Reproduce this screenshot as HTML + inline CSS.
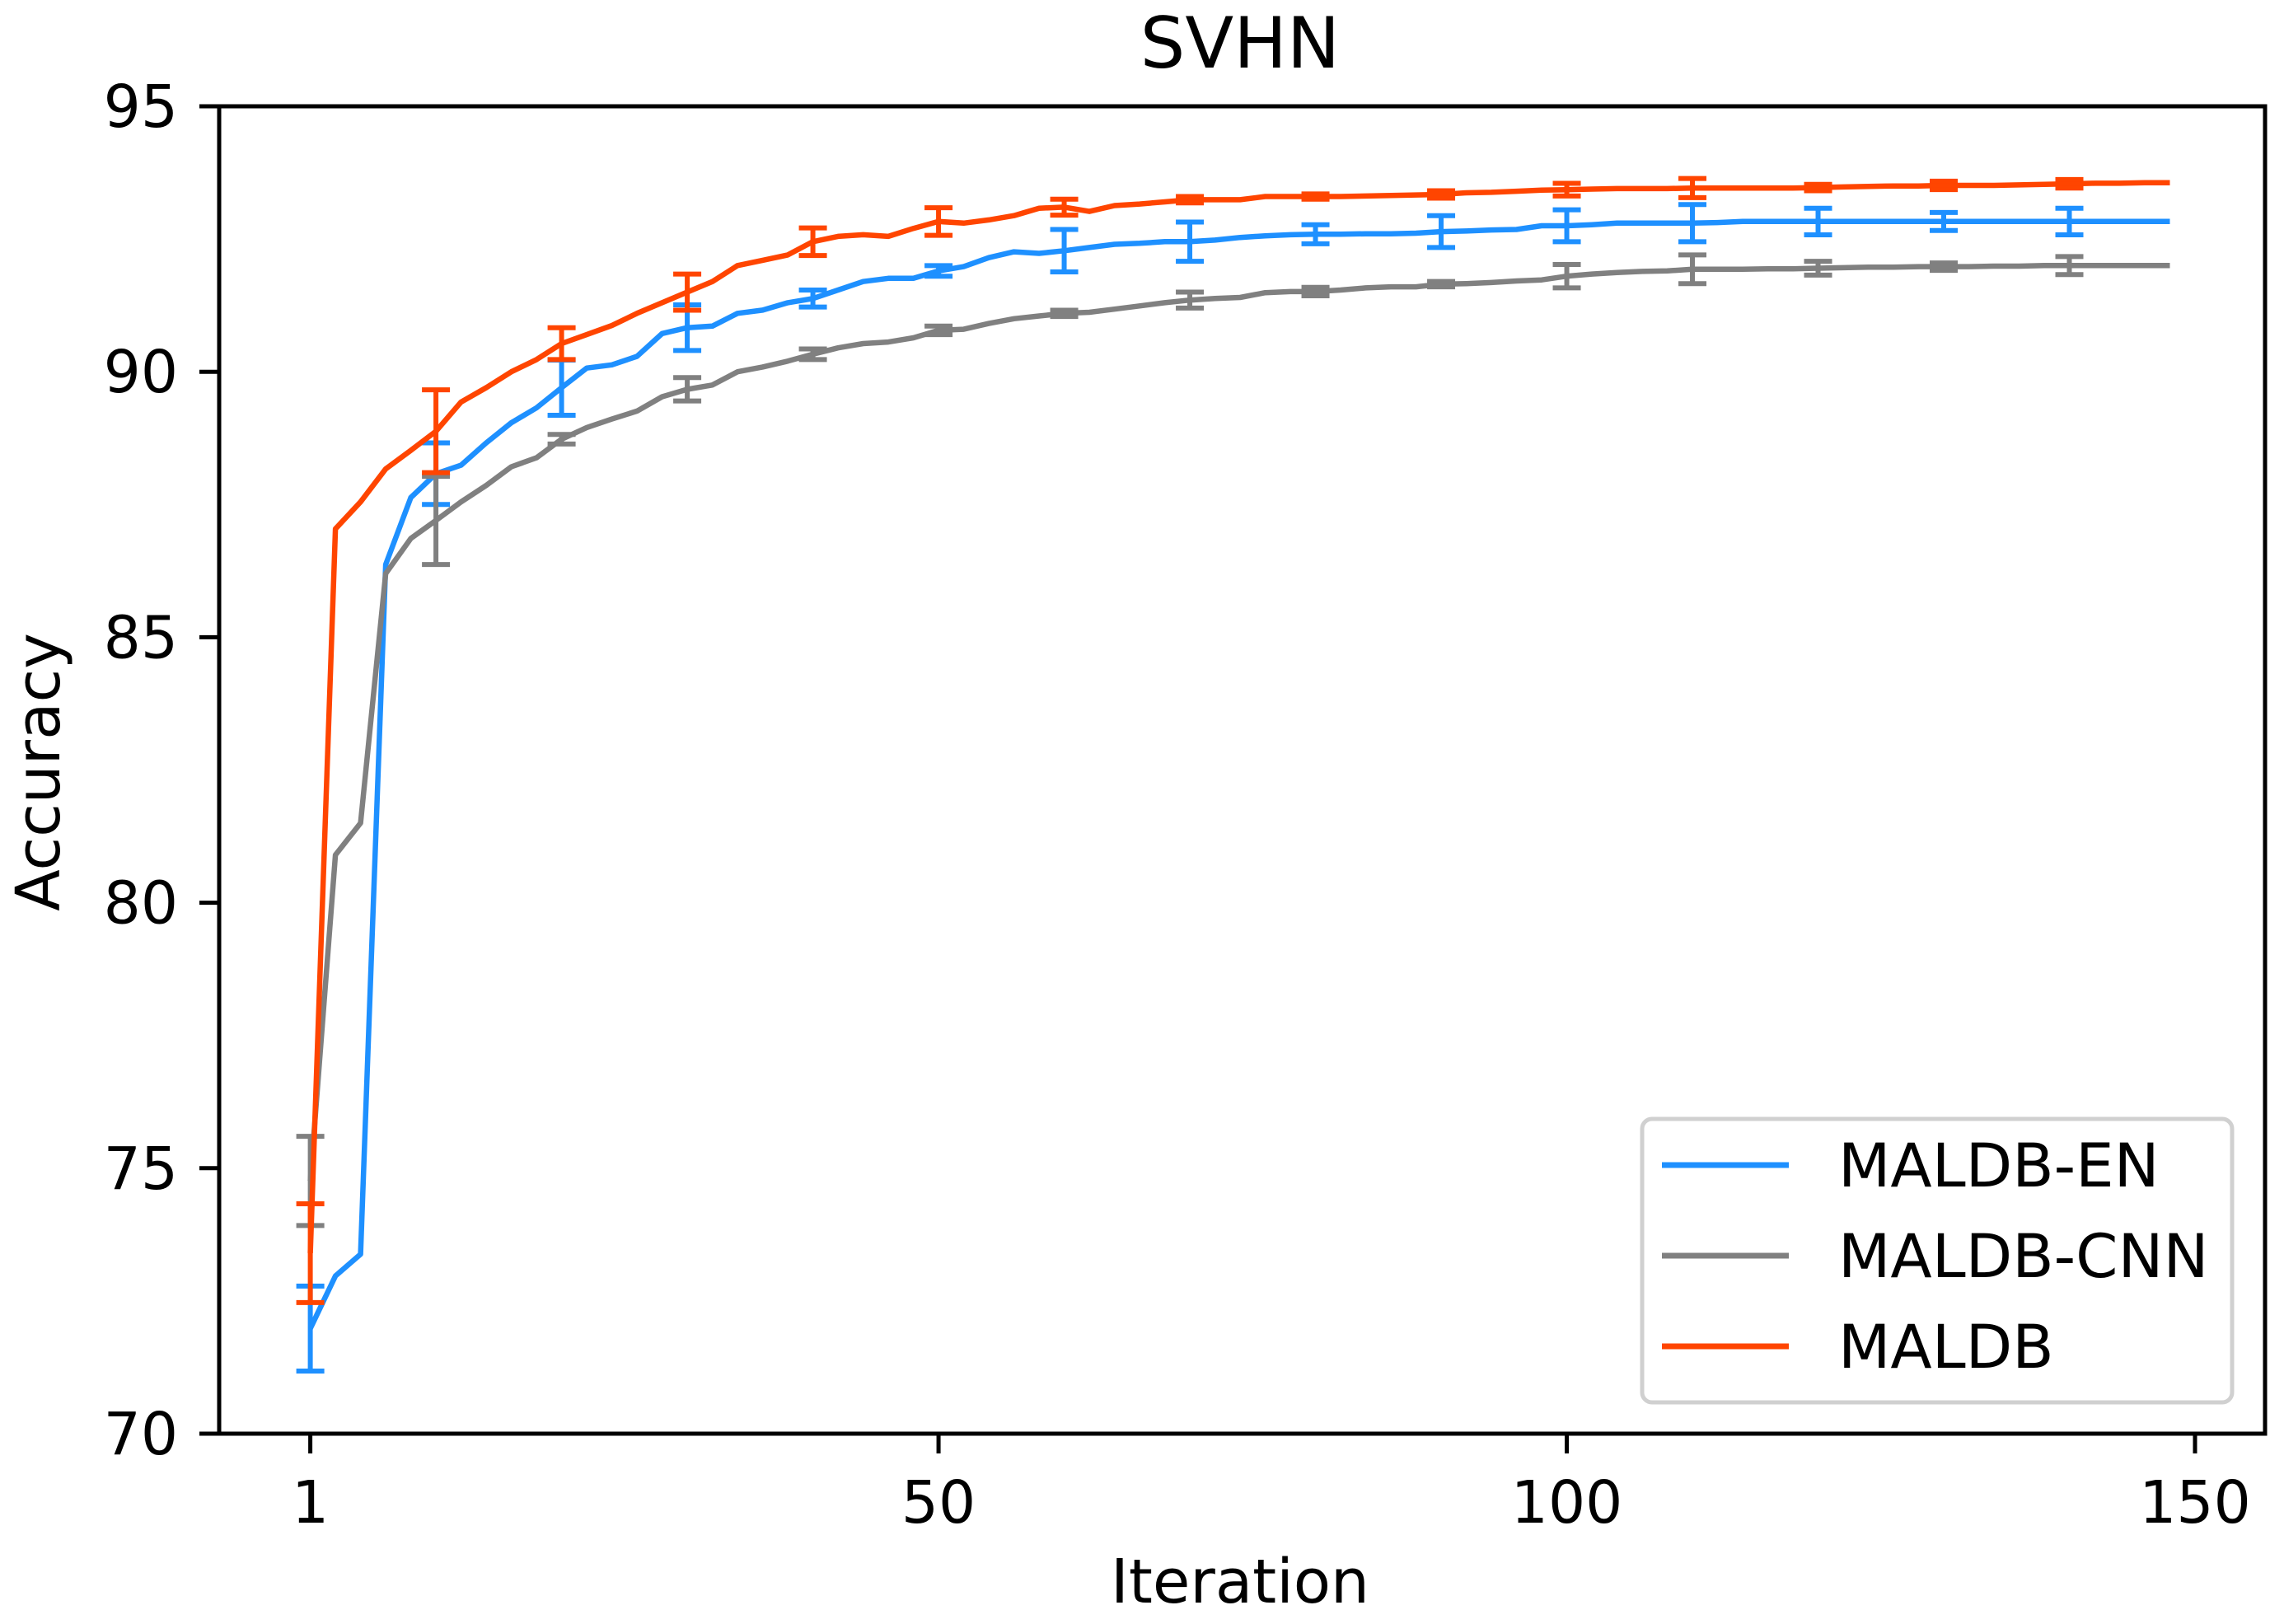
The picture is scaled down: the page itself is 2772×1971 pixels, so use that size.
<!DOCTYPE html>
<html><head><meta charset="utf-8"><style>
html,body{margin:0;padding:0;background:#fff;}
svg{display:block;font-family:"DejaVu Sans","Liberation Sans",sans-serif;}
</style></head><body>
<svg id="chart" width="2772" height="1971" viewBox="0 0 2772 1971" xmlns="http://www.w3.org/2000/svg">
<rect width="2772" height="1971" fill="#fff"/>
<text x="1505" y="82" font-size="86" text-anchor="middle">SVHN</text>
<text x="0" y="0" font-size="74" text-anchor="middle" transform="translate(72,937) rotate(-90)">Accuracy</text>
<text x="1505" y="1945" font-size="74" text-anchor="middle">Iteration</text>
<g id="series"></g>
<rect x="266" y="129" width="2483" height="1611" fill="none" stroke="#000" stroke-width="5"/>
<g id="ticks"></g>
<g>
<rect x="1993" y="1358" width="716" height="344" rx="12" fill="#fff" stroke="#d0d0d0" stroke-width="5"/>
<line x1="2017" y1="1414" x2="2171" y2="1414" stroke="#1e90ff" stroke-width="7"/>
<text x="2231" y="1440" font-size="73.5">MALDB-EN</text>
<line x1="2017" y1="1524" x2="2171" y2="1524" stroke="#808080" stroke-width="7"/>
<text x="2231" y="1550" font-size="73.5">MALDB-CNN</text>
<line x1="2017" y1="1634" x2="2171" y2="1634" stroke="#ff4500" stroke-width="7"/>
<text x="2231" y="1660" font-size="73.5">MALDB</text>
</g>
</svg>
<script>
const iterations = [0,2,4,6,8,10,12,14,16,18,20,22,24,26,28,30,32,34,36,38,40,42,44,46,48,50,52,54,56,58,60,62,64,66,68,70,72,74,76,78,80,82,84,86,88,90,92,94,96,98,100,102,104,106,108,110,112,114,116,118,120,122,124,126,128,130,132,134,136,138,140,142,144,146,148];
const maldbEN = [71.98,72.97,73.38,86.37,87.63,88.08,88.24,88.66,89.04,89.32,
89.7,90.07,90.13,90.29,90.72,90.83,90.86,91.1,91.16,91.3,
91.38,91.54,91.7,91.76,91.76,91.9,91.98,92.15,92.26,92.23,
92.28,92.34,92.4,92.42,92.45,92.45,92.48,92.53,92.56,92.58,
92.59,92.59,92.6,92.6,92.61,92.64,92.65,92.67,92.68,92.75,
92.75,92.77,92.8,92.8,92.8,92.8,92.81,92.83,92.83,92.83,
92.83,92.83,92.83,92.83,92.83,92.83,92.83,92.83,92.83,92.83,
92.83,92.83,92.83,92.83,92.83];
const maldbCNN = [74.76,80.9,81.5,86.2,86.86,87.2,87.55,87.86,88.21,88.38,
88.73,88.95,89.11,89.26,89.53,89.67,89.75,90.0,90.09,90.2,
90.33,90.45,90.53,90.56,90.64,90.78,90.8,90.91,91.0,91.05,
91.1,91.12,91.18,91.24,91.3,91.35,91.38,91.4,91.49,91.51,
91.51,91.54,91.58,91.6,91.6,91.65,91.66,91.68,91.71,91.73,
91.8,91.84,91.87,91.89,91.9,91.93,91.93,91.93,91.94,91.94,
91.95,91.96,91.97,91.97,91.98,91.98,91.98,91.99,91.99,92.0,
92.0,92.0,92.0,92.0,92.0];
const maldb = [73.4,87.04,87.55,88.17,88.52,88.88,89.43,89.7,90.0,90.23,
90.53,90.7,90.87,91.1,91.3,91.5,91.7,92.0,92.1,92.2,
92.45,92.55,92.58,92.55,92.7,92.83,92.8,92.86,92.94,93.08,
93.1,93.02,93.13,93.16,93.2,93.24,93.24,93.24,93.3,93.3,
93.3,93.3,93.31,93.32,93.33,93.34,93.37,93.38,93.4,93.42,
93.43,93.44,93.45,93.45,93.45,93.46,93.46,93.46,93.46,93.46,
93.47,93.48,93.49,93.5,93.5,93.51,93.51,93.51,93.52,93.53,
93.54,93.55,93.55,93.56,93.56];
const errIterations = [0,10,20,30,40,50,60,70,80,90,100,110,120,130,140];
const errEN = [0.8,0.58,0.52,0.43,0.16,0.1,0.4,0.37,0.18,0.3,0.3,0.35,0.25,0.17,0.25];
const errCNN = [0.84,0.83,0.09,0.22,0.1,0.08,0.06,0.15,0.08,0.05,0.22,0.27,0.13,0.07,0.17];
const errMALDB = [0.93,0.78,0.3,0.34,0.26,0.26,0.15,0.06,0.05,0.07,0.12,0.18,0.06,0.08,0.08];
const xTickValues = [0,50,100,150];
const xTickLabels = ['1','50','100','150'];
const yTicks = [70,75,80,85,90,95];

const NS = 'http://www.w3.org/2000/svg';
function xScale(v){ return 376.6 + v * (2664 - 376.6) / 150; }
function yScale(v){ return 1740 - (v - 70) * (1740 - 129) / 25; }
function mk(tag, attrs, parent){
  const el = document.createElementNS(NS, tag);
  for (const k in attrs) el.setAttribute(k, attrs[k]);
  parent.appendChild(el);
  return el;
}
const ticks = document.getElementById('ticks');
xTickValues.forEach((t, i) => {
  const l = mk('line', {x1: xScale(t), x2: xScale(t), y1: 1740, y2: 1764, stroke: '#000', 'stroke-width': 5}, ticks);
  
  
  const tx = mk('text', {x: xScale(t), y: 1848, 'font-size': 71, 'text-anchor': 'middle'}, ticks);
  tx.textContent = xTickLabels[i];
  
  
});
yTicks.forEach(t => {
  const l = mk('line', {x1: 242, x2: 266, y1: yScale(t), y2: yScale(t), stroke: '#000', 'stroke-width': 5}, ticks);
  
  
  const tx = mk('text', {x: 216, y: yScale(t) + 25, 'font-size': 71, 'text-anchor': 'end'}, ticks);
  tx.textContent = t;
  
  
});
const seriesG = document.getElementById('series');
function drawSeries(vals, errs, color, name){
  const g = mk('g', {}, seriesG);
  
  
  const pts = iterations.map((it, i) => xScale(it).toFixed(1) + ',' + yScale(vals[i]).toFixed(1)).join(' ');
  const pl = mk('polyline', {points: pts, fill: 'none', stroke: color, 'stroke-width': 6.5, 'stroke-linejoin': 'round'}, g);
  
  
  errIterations.forEach((it, j) => {
    const idx = iterations.indexOf(it);
    const v = vals[idx];
    const x = xScale(it), y1 = yScale(v - errs[j]), y2 = yScale(v + errs[j]);
    const eg = mk('g', {stroke: color, 'stroke-width': 6}, g);
    
    
    mk('line', {x1: x, x2: x, y1: y1, y2: y2}, eg);
    mk('line', {x1: x - 17, x2: x + 17, y1: y1, y2: y1}, eg);
    mk('line', {x1: x - 17, x2: x + 17, y1: y2, y2: y2}, eg);
  });
}
drawSeries(maldbEN, errEN, '#1e90ff', 'maldb-en');
drawSeries(maldbCNN, errCNN, '#808080', 'maldb-cnn');
drawSeries(maldb, errMALDB, '#ff4500', 'maldb');
</script>
</body></html>
